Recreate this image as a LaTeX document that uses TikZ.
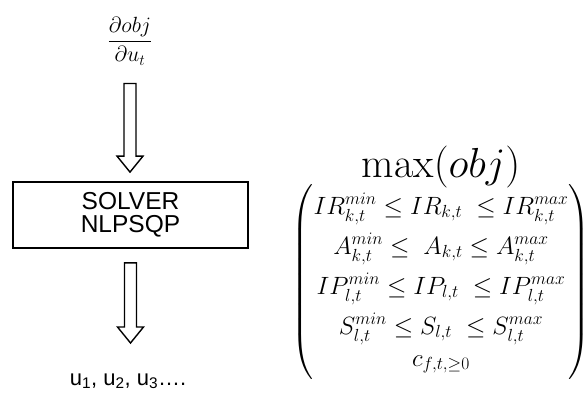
\RequirePackage{fix-cm}
\documentclass[tikz,border=0pt]{standalone}
\usepackage{amsmath, amssymb}
\usepackage{fontspec}
\newfontfamily\arialfont{Liberation Sans}
\usetikzlibrary{calc}

\newcommand{\hollowarrow}[2]{%
  \draw[blockarrow] let \p1=(#1), \p2=(#2) in
    (\x1-6,\y1) -- (\x1+6,\y1) -- (\x1+6,\y2+16) -- (\x1+13,\y2+16)
    -- (\x1,\y2) -- (\x1-13,\y2+16) -- (\x1-6,\y2+16) -- cycle;}

\begin{document}
\begin{tikzpicture}[x=1pt,y=-1pt,every node/.style={inner sep=0pt},
    blockarrow/.style={draw, line width=1.4pt, fill=white, line join=miter},
    solverbox/.style={draw, line width=1.8pt, minimum width=235pt, minimum height=66pt,
      align=center, font=\arialfont\fontsize{24.5}{23.5}\selectfont}]
      \useasboundingbox (0,0) rectangle (586,394);
      \node (grad) at (130,41) {\fontsize{22}{26}\selectfont$\dfrac{\partial obj}{\partial u_t}$};
      \node[solverbox] (solver) at (130.5,215) {SOLVER\\NLPSQP};
      \node[anchor=base] (result) at (128,385)
        {\arialfont\fontsize{22}{26}\selectfont u\textsubscript{1}, u\textsubscript{2}, u\textsubscript{3}….};
      \coordinate (in1) at ($(grad.south)+(0,18)$);
      \coordinate (tip1) at ($(solver.north)+(0,-9)$);
      \coordinate (in2) at ($(solver.south)+(0,14)$);
      \coordinate (tip2) at ($(result.base)+(0,-42)$);
      \hollowarrow{in1}{tip1}
      \hollowarrow{in2}{tip2}
      \node[anchor=base] (goal) at (441,177) {\fontsize{42}{48}\selectfont$\max(obj)$};
      \node (cons) at (441,282) {\fontsize{25}{40}\selectfont$\begin{pmatrix}
          IR^{min}_{k,t} \le IR_{k,t}\; \le IR^{max}_{k,t}\\
          A^{min}_{k,t} \le\; A_{k,t} \le A^{max}_{k,t}\\
          IP^{min}_{l,t} \le IP_{l,t}\; \le IP^{max}_{l,t}\\
          S^{min}_{l,t} \le S_{l,t}\; \le S^{max}_{l,t}\\[-8pt]
          c_{f,t,\ge 0}
        \end{pmatrix}$};
\end{tikzpicture}
\end{document}
